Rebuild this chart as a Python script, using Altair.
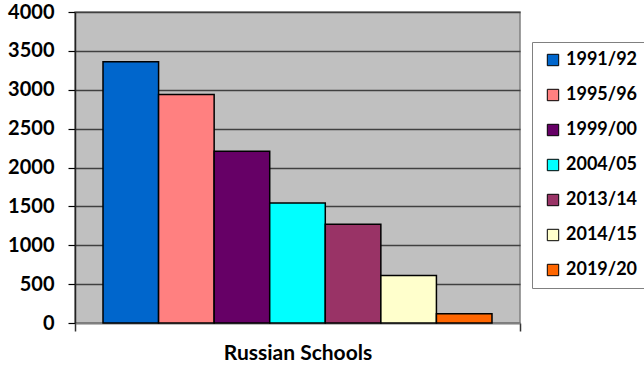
import altair as alt
import pandas as pd

group = ["Russian Schools"] * 7
years = ["1991/92", "1995/96", "1999/00", "2004/05", "2013/14", "2014/15", "2019/20"]
values = [3360, 2940, 2210, 1545, 1270, 612, 120]
colors = ["#0066CC", "#FF8080", "#660066", "#00FFFF", "#993366", "#FFFFCC", "#FF6600"]
y_ticks = [0, 500, 1000, 1500, 2000, 2500, 3000, 3500, 4000]

df = pd.DataFrame({"group": group, "year": years, "value": values})

FONT = "Lato"

chart = alt.Chart(df).mark_bar(stroke="black", strokeWidth=1.5).encode(
    x=alt.X(
        "group:N",
        scale=alt.Scale(paddingInner=0, paddingOuter=0),
        axis=alt.Axis(
            title=None, labelAngle=0, tickBand="extent", tickSize=8,
            tickColor="#333333", tickWidth=1.5, domainColor="#808080", domainWidth=1.5,
            labelFont=FONT, labelFontWeight="bold", labelFontSize=21, labelColor="black",
            labelPadding=11, grid=False,
        ),
    ),
    xOffset=alt.XOffset("year:N", sort=years, scale=alt.Scale(paddingInner=0, paddingOuter=0.504)),
    y=alt.Y(
        "value:Q",
        scale=alt.Scale(domain=[0, 4000], nice=False),
        axis=alt.Axis(
            title=None, values=y_ticks, format="d",
            tickSize=7, tickColor="black", tickWidth=1.2,
            domainColor="#222222", domainWidth=1.5,
            grid=True, gridColor="#404040", gridWidth=1.3,
            labelFont=FONT, labelFontWeight="bold", labelFontSize=20, labelColor="black",
            labelPadding=14,
        ),
    ),
    color=alt.Color(
        "year:N",
        sort=years,
        scale=alt.Scale(domain=years, range=colors),
        legend=alt.Legend(
            title=None, orient="none", legendX=457, legendY=30,
            strokeColor="#808080", padding=9, fillColor="white",
            symbolType="square", symbolSize=130, symbolStrokeColor="black", symbolStrokeWidth=1,
            symbolOffset=3, labelOffset=4,
            labelFont=FONT, labelFontWeight="bold", labelFontSize=18, labelColor="black",
            rowPadding=17, labelLimit=200,
        ),
    ),
).properties(
    width=445,
    height=311,
    autosize=alt.AutoSizeParams(type="none"),
    padding={"left": 75, "top": 12, "right": 124, "bottom": 43},
).configure(
    background="white",
    view=alt.ViewConfig(fill="#C0C0C0", stroke="#808080", strokeWidth=1.5),
)

chart.save("out.html", embed_options={"renderer": "svg", "actions": False})
